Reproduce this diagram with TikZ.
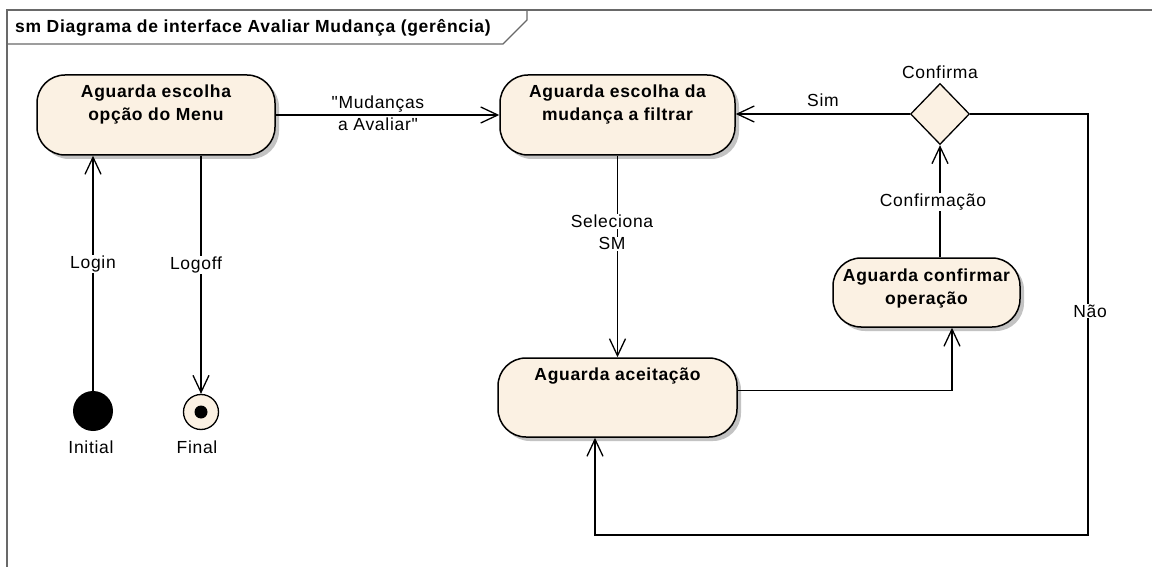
\documentclass[tikz,border=0pt]{standalone}
\usepackage{fontspec}
\setmainfont{Liberation Sans}[LetterSpace=4, Ligatures=TeXOff]
\usetikzlibrary{arrows.meta,shapes.geometric,shadows}

\definecolor{stfill}{RGB}{251,241,227}
\definecolor{framecol}{RGB}{105,105,105}
\definecolor{shadowcol}{RGB}{195,195,195}

% white patch behind each line of a transition label
\newcommand\edgelbl[1]{{\setlength\fboxsep{0.6pt}\colorbox{white}{#1}}}

\tikzset{
  stt/.style={draw, line width=1.5pt, fill=stfill, rounded corners=28pt,
    inner sep=0pt,
    drop shadow={shadow xshift=4pt, shadow yshift=-4pt, fill=shadowcol, opacity=1}},
  sttext/.style={anchor=north, inner sep=0pt, align=center,
    font=\bfseries\fontsize{17.5}{23}\selectfont},
  lbltext/.style={inner sep=0pt, align=center},
  arr/.style={draw, line width=1.3pt,
    -{Straight Barb[length=17pt,width=16pt,line width=1.3pt]}},
}

\begin{document}
\begin{tikzpicture}[x=1pt, y=-1pt, font=\fontsize{17.5}{22}\selectfont]
\useasboundingbox (0,0) rectangle (1152,567);
\fill[white] (0,0) rectangle (1152,567);

% diagram frame and its name tab
\draw[framecol, line width=1.3pt] (7,567) -- (7,10) -- (1152,10);
\draw[framecol, line width=1.3pt] (7,44) -- (503,44) -- (527,20) -- (527,10);
\node[anchor=west, inner sep=0pt, font=\bfseries\fontsize{17.5}{22}\selectfont] (title)
  at (15,27.5) {sm Diagrama de interface Avaliar Mudança (gerência)};

% states
\node[stt, minimum width=238pt, minimum height=80pt] (a) at (156,115) {};
\node[sttext] (at) at ([yshift=-10pt]a.north) {Aguarda escolha\\opção do Menu};

\node[stt, minimum width=235pt, minimum height=80pt] (b) at (617.5,115) {};
\node[sttext] (bt) at ([yshift=-10pt]b.north) {Aguarda escolha da\\mudança a filtrar};

\node[stt, minimum width=239pt, minimum height=79pt] (c) at (617.5,397.5) {};
\node[sttext] (ct) at ([yshift=-10pt]c.north) {Aguarda aceitação};

\node[stt, minimum width=187pt, minimum height=69pt] (d) at (926.5,292.5) {};
\node[sttext] (dt) at ([yshift=-11pt]d.north) {Aguarda confirmar\\operação};

% choice
\node[diamond, draw, line width=1.3pt, fill=stfill, inner sep=0pt,
  minimum width=59pt, minimum height=61pt] (dec) at (940,114) {};
\node[lbltext] (declbl) at (940,72) {Confirma};

% pseudostates
\node[circle, fill=black, inner sep=0pt, minimum size=40pt] (ini) at (93,411) {};
\node[lbltext] (inilbl) at (91,447) {Initial};
\node[circle, draw, line width=1.3pt, fill=stfill, inner sep=0pt, minimum size=35pt] (fin) at (201,412) {};
\node[circle, fill=black, inner sep=0pt, minimum size=13pt] (findot) at (fin) {};
\node[lbltext] (finlbl) at (197,447) {Final};

% transitions
\draw[arr] (ini.north) -- (ini.north |- a.south);
\draw[arr] (a.south -| fin.north) -- (fin.north);
\draw[arr] (a.east) -- (b.west);
\draw[arr] (b.south) -- (c.north);
\draw[arr] ([yshift=7pt]c.east) -| ([xshift=25.5pt]d.south);
\draw[arr] (d.north -| dec.south) -- (dec.south);
\draw[arr] (dec.west) -- (dec.west -| b.east);
\coordinate (loop) at (1088,535);
\draw[arr] (dec.east) -| (loop) -| ([xshift=-22.5pt]c.south);

% transition labels
\node[lbltext] (login) at (93,264) {\edgelbl{Login}};
\node[lbltext] (logoff) at (196,265) {\edgelbl{Logoff}};
\node[lbltext] (menu) at (378,113) {\edgelbl{"Mudanças}\\\edgelbl{a Avaliar"}};
\node[lbltext] (sel) at (612,232.5) {\edgelbl{Seleciona}\\\edgelbl{SM}};
\node[lbltext] (sim) at (823,100) {Sim};
\node[lbltext] (conf) at (933,202) {\edgelbl{Confirmação}};
\node[lbltext] (nao) at (1090,311) {\edgelbl{Não}};
\end{tikzpicture}
\end{document}
